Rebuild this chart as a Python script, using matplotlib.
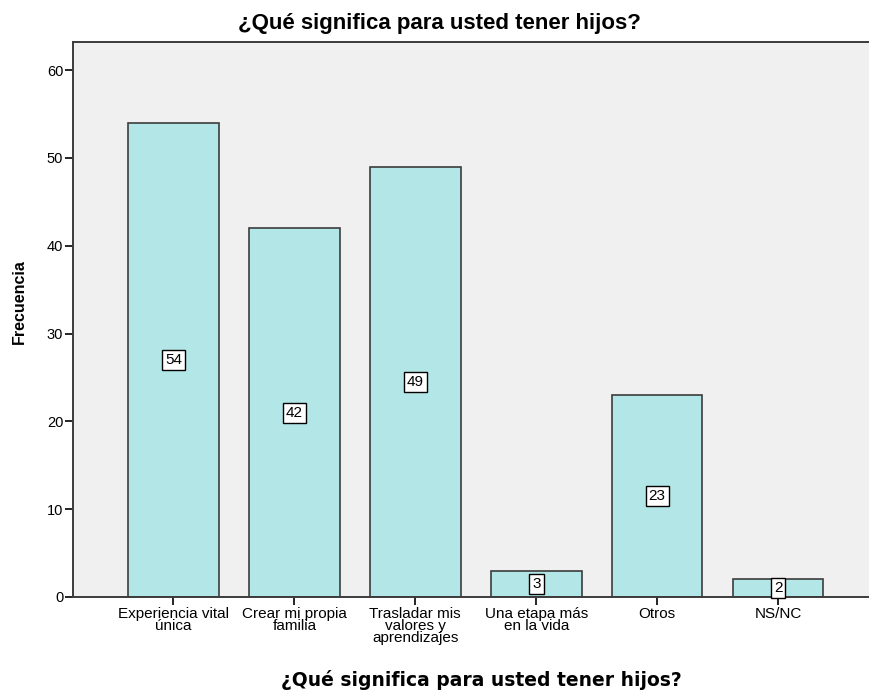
import matplotlib.pyplot as plt

# --- Data ---
categories = ['Experiencia vital\núnica', 'Crear mi propia\nfamilia',
              'Trasladar mis\nvalores y\naprendizajes', 'Una etapa más\nen la vida',
              'Otros', 'NS/NC']
counts = [54, 42, 49, 3, 23, 2]
yticks = [0, 10, 20, 30, 40, 50, 60]
title = '¿Qué significa para usted tener hijos?'

plt.rcParams['font.family'] = ['Liberation Sans', 'DejaVu Sans']

W, H = 870, 690
fig = plt.figure(figsize=(W / 100, H / 100), dpi=100)
ax = fig.add_axes([73 / W, 93 / H, 1 - 73 / W, (597 - 42) / H])
ax.set_facecolor('#F0F0F0')

x = list(range(len(categories)))
ax.bar(x, counts, width=0.75, color='#B3E6E6', edgecolor='#3C3C3C', linewidth=1.2, zorder=2)

# value labels in the middle of each bar
for xi, v in zip(x, counts):
    ax.text(xi, v / 2, str(v), ha='center', va='center', fontsize=11, zorder=3,
            bbox=dict(boxstyle='square,pad=0.2', facecolor='white', edgecolor='black', linewidth=1.0))

ax.set_xlim(-0.83, 5.76)
ax.set_ylim(0, 63.2)
ax.set_yticks(yticks)
ax.set_xticks(x)
ax.set_xticklabels(categories, fontsize=11, linespacing=0.85)
ax.tick_params(axis='y', labelsize=10.5, length=6, width=1.2, direction='out', pad=1)
ax.tick_params(axis='x', length=6, width=1.2, direction='out', pad=1)

for side in ['left', 'top', 'bottom']:
    ax.spines[side].set_color('#3C3C3C')
    ax.spines[side].set_linewidth(1.4)
ax.spines['right'].set_visible(False)

ax.set_ylabel('Frecuencia', fontsize=11.5, fontweight='bold')
ax.yaxis.set_label_coords(-(73 - 19) / (W - 73), (597 - 302) / (597 - 42))
ax.yaxis.label.set_va('center')

fig.text(481 / W, 1 - 680 / H, title, ha='center', va='center',
         fontsize=13.5, fontweight='bold', family='DejaVu Sans')
fig.text(439 / W, 1 - 23 / H, title, ha='center', va='center',
         fontsize=16, fontweight='bold')

plt.savefig('out.png', dpi=100)
